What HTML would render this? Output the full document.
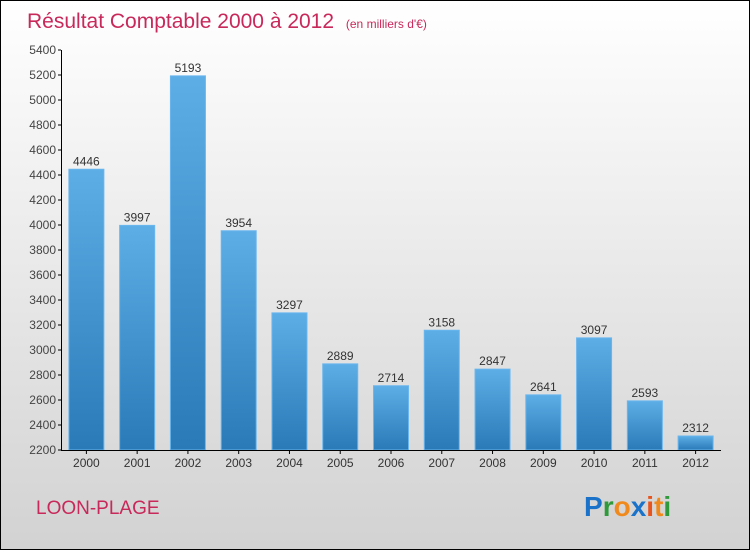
<!DOCTYPE html>
<html><head><meta charset="utf-8"><style>
body{margin:0;}
#wrap{position:relative;width:748px;height:548px;border:1px solid #000;background:linear-gradient(#ffffff,#d2d2d2);font-family:"Liberation Sans",sans-serif;overflow:hidden}
</style></head><body>
<div id="wrap">
<svg id="chart" width="748" height="548">
<defs><linearGradient id="bg" x1="0" y1="0" x2="0" y2="1"><stop offset="0" stop-color="#5dade6"/><stop offset="1" stop-color="#2a7ab8"/></linearGradient></defs>
<text x="26" y="27" font-size="21" fill="#c8285a">Résultat Comptable 2000 à 2012 <tspan font-size="12" dx="6">(en milliers d'€)</tspan></text>
<text x="35" y="513" font-size="19" fill="#c8285a">LOON-PLAGE</text>
<g font-size="28" font-weight="bold" font-family="'Liberation Sans',sans-serif">
<text x="583" y="515"><tspan fill="#1a73c9">P</tspan><tspan fill="#2e9a3a">r</tspan><tspan fill="#f08a1c">o</tspan><tspan fill="#1a73c9">x</tspan><tspan fill="#e8541c">i</tspan><tspan fill="#f08a1c">t</tspan><tspan fill="#2e9a3a">i</tspan></text></g>
<g id="plot"></g>
</svg></div>
<script>
const years=["2000","2001","2002","2003","2004","2005","2006","2007","2008","2009","2010","2011","2012"];
const values=[4446,3997,5193,3954,3297,2889,2714,3158,2847,2641,3097,2593,2312];
const yTicks=[2200,2400,2600,2800,3000,3200,3400,3600,3800,4000,4200,4400,4600,4800,5000,5200,5400];
const NS="http://www.w3.org/2000/svg";
const plotG=document.getElementById('plot');
const yMin=2200,yMax=5400,plotTop=49,plotBot=449,plotX0=60,plotX1=720;
const yS=v=>plotBot-(v-yMin)/(yMax-yMin)*(plotBot-plotTop);
const step=(plotX1-plotX0)/years.length;
const xc=i=>plotX0+step*(i+0.5);
function mk(t,a){const e=document.createElementNS(NS,t);for(const k in a)e.setAttribute(k,a[k]);plotG.appendChild(e);return e;}
yTicks.forEach(v=>{
 const l=mk('line',{x1:57,x2:60,y1:yS(v),y2:yS(v),stroke:'#000'});
 
 
 const t=mk('text',{x:55,y:yS(v)+4,'text-anchor':'end','font-size':12,fill:'#444'});
 t.textContent=v;
 
 
});
values.forEach((v,i)=>{
 const r=mk('rect',{x:xc(i)-17.5,y:yS(v),width:35,height:plotBot-yS(v),fill:'url(#bg)',stroke:'#6ab6ee','stroke-width':1});
 
 
 const t=mk('text',{x:xc(i),y:yS(v)-4,'text-anchor':'middle','font-size':12,fill:'#333'});
 t.textContent=v;
 
 
 const xl=mk('text',{x:xc(i),y:466,'text-anchor':'middle','font-size':12,fill:'#333'});
 xl.textContent=years[i];
 
 
 const xt=mk('line',{x1:xc(i),x2:xc(i),y1:plotBot,y2:plotBot+4,stroke:'#000'});
 
 
});
const ya=mk('line',{x1:60.5,x2:60.5,y1:plotTop,y2:plotBot,stroke:'#000'});


const xa=mk('line',{x1:60,x2:plotX1,y1:plotBot+0.5,y2:plotBot+0.5,stroke:'#000'});


</script>
</body></html>
